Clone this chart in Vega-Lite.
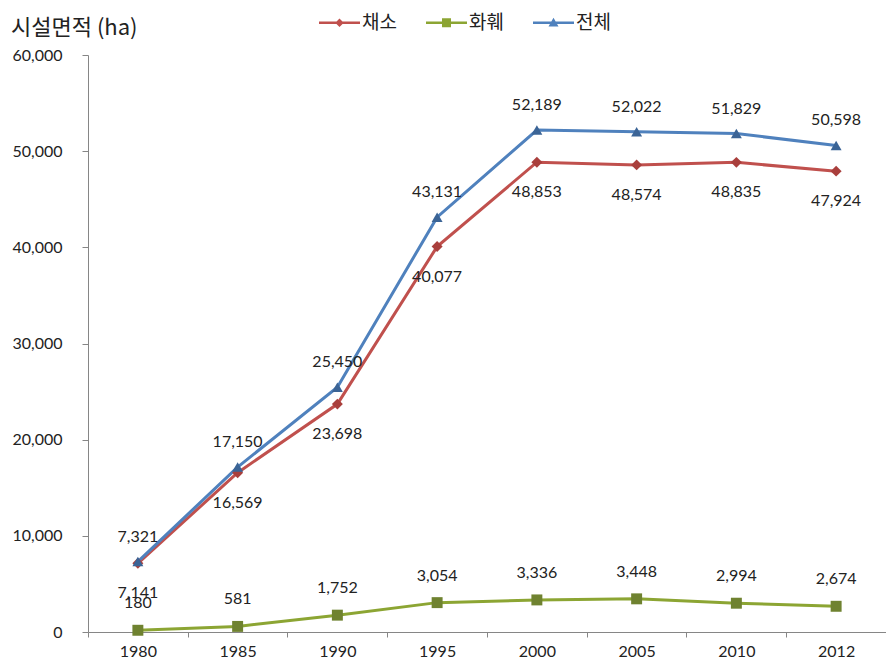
{
  "$schema": "https://vega.github.io/schema/vega-lite/v6.json",
  "width": 798,
  "height": 577,
  "autosize": "none",
  "padding": {"left": 88, "top": 55, "right": 0, "bottom": 34},
  "background": "white",
  "config": {"view": {"stroke": null}, "font": "Lato"},
  "title": {
    "text": "시설면적 (ha)",
    "anchor": "start",
    "frame": "group",
    "font": "Noto Sans CJK KR",
    "fontSize": 22,
    "fontWeight": "normal",
    "color": "#222222",
    "dx": -77,
    "dy": 41,
    "offset": 14
  },
  "data": {
    "values": [
      {"year": "1980", "series": "채소", "value": 7141},
      {"year": "1985", "series": "채소", "value": 16569},
      {"year": "1990", "series": "채소", "value": 23698},
      {"year": "1995", "series": "채소", "value": 40077},
      {"year": "2000", "series": "채소", "value": 48853},
      {"year": "2005", "series": "채소", "value": 48574},
      {"year": "2010", "series": "채소", "value": 48835},
      {"year": "2012", "series": "채소", "value": 47924},
      {"year": "1980", "series": "화훼", "value": 180},
      {"year": "1985", "series": "화훼", "value": 581},
      {"year": "1990", "series": "화훼", "value": 1752},
      {"year": "1995", "series": "화훼", "value": 3054},
      {"year": "2000", "series": "화훼", "value": 3336},
      {"year": "2005", "series": "화훼", "value": 3448},
      {"year": "2010", "series": "화훼", "value": 2994},
      {"year": "2012", "series": "화훼", "value": 2674},
      {"year": "1980", "series": "전체", "value": 7321},
      {"year": "1985", "series": "전체", "value": 17150},
      {"year": "1990", "series": "전체", "value": 25450},
      {"year": "1995", "series": "전체", "value": 43131},
      {"year": "2000", "series": "전체", "value": 52189},
      {"year": "2005", "series": "전체", "value": 52022},
      {"year": "2010", "series": "전체", "value": 51829},
      {"year": "2012", "series": "전체", "value": 50598}
    ]
  },
  "encoding": {
    "x": {
      "field": "year",
      "type": "ordinal",
      "scale": {"type": "point", "padding": 0.5},
      "axis": {
        "title": null,
        "labelAngle": 0,
        "labelFont": "Lato",
        "labelFontSize": 16,
        "labelColor": "#222222",
        "labelPadding": 6,
        "tickOffset": -50,
        "labelOffset": 50,
        "tickSize": 5,
        "tickColor": "#868686",
        "domainColor": "#868686",
        "grid": false
      }
    },
    "y": {
      "field": "value",
      "type": "quantitative",
      "scale": {"domain": [0, 60000], "nice": false},
      "axis": {
        "title": null,
        "values": [0, 10000, 20000, 30000, 40000, 50000, 60000],
        "format": ",d",
        "labelFont": "Lato",
        "labelFontSize": 16,
        "labelColor": "#222222",
        "labelPadding": 20,
        "tickSize": 6,
        "tickColor": "#868686",
        "domainColor": "#868686",
        "grid": false
      }
    }
  },
  "resolve": {"scale": {"shape": "independent", "color": "independent"}},
  "layer": [
    {
      "mark": {"type": "line", "strokeWidth": 3},
      "encoding": {
        "stroke": {
          "field": "series",
          "type": "nominal",
          "scale": {"domain": ["채소", "화훼", "전체"], "range": ["#C0504D", "#8CA533", "#4F81BD"]},
          "legend": null
        }
      }
    },
    {
      "mark": {"type": "point", "filled": true, "opacity": 1, "size": 120},
      "encoding": {
        "shape": {
          "field": "series",
          "type": "nominal",
          "scale": {"domain": ["채소", "화훼", "전체"], "range": ["diamond", "square", "triangle-up"]},
          "legend": null
        },
        "fill": {
          "field": "series",
          "type": "nominal",
          "scale": {"domain": ["채소", "화훼", "전체"], "range": ["#A93F3C", "#6F8230", "#3B6496"]},
          "legend": null
        }
      }
    },
    {
      "transform": [{"filter": "datum.value < 0"}],
      "mark": {"type": "point", "filled": true, "opacity": 1},
      "encoding": {
        "color": {
          "field": "series",
          "type": "nominal",
          "scale": {"domain": ["채소", "화훼", "전체"], "range": ["#C0504D", "#8CA533", "#4F81BD"]},
          "legend": {
            "title": null,
            "orient": "none",
            "legendX": 236,
            "legendY": -42,
            "direction": "horizontal",
            "labelFont": "Noto Sans CJK KR",
            "labelFontSize": 19,
            "labelColor": "#222222",
            "labelOffset": 13,
            "symbolSize": 100,
            "symbolOffset": 6,
            "symbolStrokeWidth": 0,
            "columnPadding": 29
          }
        },
        "shape": {
          "field": "series",
          "type": "nominal",
          "scale": {
            "domain": ["채소", "화훼", "전체"],
            "range": [
              "M-4.1,-0.27H4.1V0.27H-4.1Z M0,-0.85L0.85,0L0,0.85L-0.85,0Z",
              "M-4.1,-0.27H4.1V0.27H-4.1Z M-0.9,-0.9H0.9V0.9H-0.9Z",
              "M-4.1,-0.27H4.1V0.27H-4.1Z M0,-1L1,0.75H-1Z"
            ]
          },
          "legend": {
            "title": null,
            "orient": "none",
            "legendX": 236,
            "legendY": -42,
            "direction": "horizontal",
            "labelFont": "Noto Sans CJK KR",
            "labelFontSize": 19,
            "labelColor": "#222222",
            "labelOffset": 13,
            "symbolSize": 100,
            "symbolOffset": 6,
            "symbolStrokeWidth": 0,
            "columnPadding": 29
          }
        }
      }
    },
    {
      "transform": [{"filter": "datum.series === '전체'"}],
      "mark": {"type": "text", "dy": -25, "font": "Lato", "fontSize": 16, "color": "#222222"},
      "encoding": {"text": {"field": "value", "type": "quantitative", "format": ","}}
    },
    {
      "transform": [{"filter": "datum.series === '채소'"}],
      "mark": {"type": "text", "dy": 30, "font": "Lato", "fontSize": 16, "color": "#222222"},
      "encoding": {"text": {"field": "value", "type": "quantitative", "format": ","}}
    },
    {
      "transform": [{"filter": "datum.series === '화훼'"}],
      "mark": {"type": "text", "dy": -27, "font": "Lato", "fontSize": 16, "color": "#222222"},
      "encoding": {"text": {"field": "value", "type": "quantitative", "format": ","}}
    }
  ]
}
